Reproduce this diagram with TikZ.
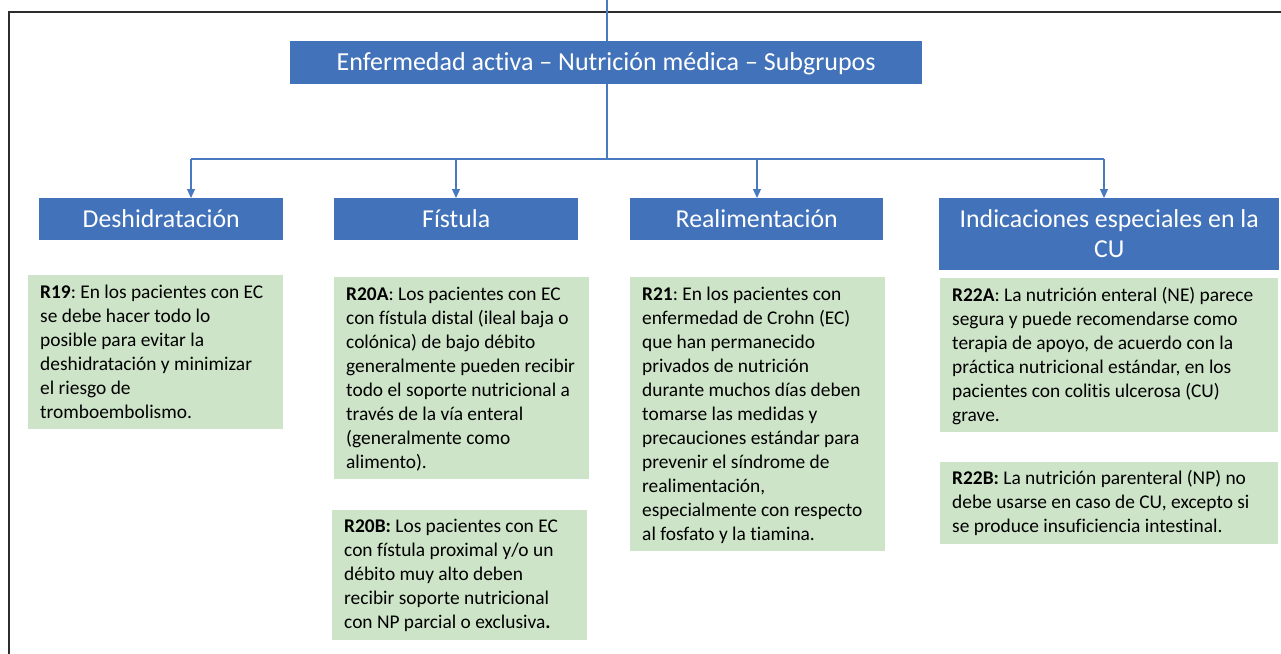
\documentclass[tikz,border=0pt]{standalone}
\usepackage{fontspec}
\setmainfont{Carlito}[Ligatures={TeX,NoCommon}]
\usetikzlibrary{arrows.meta,positioning}

\definecolor{hdblue}{RGB}{66,114,186}
\definecolor{recgreen}{RGB}{205,228,200}
\definecolor{linkblue}{RGB}{72,122,192}
\definecolor{framegray}{RGB}{45,45,45}

\newcommand{\hdstrut}{\rule[-7pt]{0pt}{30pt}}
\newcommand{\recstrut}{\rule[-6pt]{0pt}{24pt}}
\frenchspacing

\begin{document}
\begin{tikzpicture}[x=1pt,y=-1pt,
  head/.style={fill=hdblue,text=white,font=\fontsize{25.8}{30}\selectfont,
    align=flush center,inner xsep=0pt,inner ysep=6pt,anchor=north west,
    execute at begin node=\hdstrut,execute at end node=\hdstrut},
  rec/.style={fill=recgreen,font=\fontsize{19.4}{24}\selectfont,align=flush left,
    inner xsep=2pt,inner ysep=5pt,anchor=north west,
    execute at begin node={\leftskip=10pt\recstrut},execute at end node=\recstrut},
  link/.style={linkblue,line width=1.1pt},
  tip/.style={-{Triangle[width=8pt,length=9pt]}}]
  \useasboundingbox (0,0) rectangle (1281,653);
  \draw[framegray,line width=2pt] (9,670) -- (9,12) -- (1300,12);

  \node[head,text width=632pt,inner ysep=6.5pt,font=\fontsize{26}{30}\selectfont] (t) at (290,41)
    {Enfermedad activa – Nutrición médica – Subgrupos};
  \node[head,text width=244pt] (d) at (39,198) {Deshidratación};
  \node[head,text width=244pt] (f) at (334,198) {Fístula};
  \node[head,text width=253pt] (r) at (630,198) {Realimentación};
  \node[head,text width=340pt] (cu) at (939,198) {Indicaciones especiales en la\\CU};

  \node[rec,text width=251pt] (r19) at (28,275)
    {\textbf{R19}: En los pacientes con EC\\se debe hacer todo lo\\posible para evitar la\\deshidratación y minimizar\\el riesgo de\\tromboembolismo.};
  \node[rec,text width=251pt] (r20a) at (334,277)
    {\textbf{R20A}: Los pacientes con EC\\con fístula distal (ileal baja o\\colónica) de bajo débito\\generalmente pueden recibir\\todo el soporte nutricional a\\través de la vía enteral\\(generalmente como\\alimento).};
  \node[rec,text width=251pt] (r20b) [below=30pt of r20a.south west,anchor=north west,xshift=-2pt]
    {\textbf{R20B:} Los pacientes con EC\\con fístula proximal y/o un\\débito muy alto deben\\recibir soporte nutricional\\con NP parcial o exclusiva\textbf{.}};
  \node[rec,text width=251pt] (r21) at (630,277)
    {\textbf{R21}: En los pacientes con\\enfermedad de Crohn (EC)\\que han permanecido\\privados de nutrición\\durante muchos días deben\\tomarse las medidas y\\precauciones estándar para\\prevenir el síndrome de\\realimentación,\\especialmente con respecto\\al fosfato y la tiamina.};
  \node[rec,text width=334pt] (r22a) at (940,278)
    {\textbf{R22A}: La nutrición enteral (NE) parece\\segura y puede recomendarse como\\terapia de apoyo, de acuerdo con la\\práctica nutricional estándar, en los\\pacientes con colitis ulcerosa (CU)\\grave.};
  \node[rec,text width=334pt] (r22b) [below=29pt of r22a.south west,anchor=north west]
    {\textbf{R22B:} La nutrición parenteral (NP) no\\debe usarse en caso de CU, excepto si\\se produce insuficiencia intestinal.};

  % tree connectors
  \coordinate (top) at (607,0);
  \coordinate (bus) at (607,159);
  \coordinate (b1) at (191,159);
  \coordinate (b2) at (456,159);
  \coordinate (b3) at (757,159);
  \coordinate (b4) at (1104,159);
  \draw[link] (top) -- (top |- t.north);
  \draw[link] (bus |- t.south) -- (bus);
  \draw[link] (b1) -- (b4);
  \path[link,tip]
  (b1) edge (b1 |- d.north)
  (b2) edge (b2 |- f.north)
  (b3) edge (b3 |- r.north)
  (b4) edge (b4 |- cu.north);
\end{tikzpicture}
\end{document}
